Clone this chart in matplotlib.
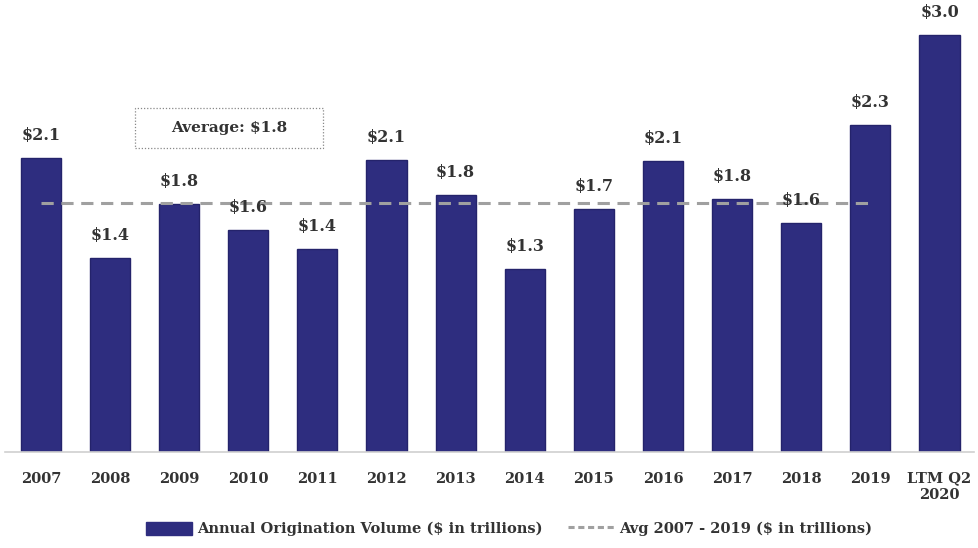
import matplotlib.pyplot as plt
from matplotlib.lines import Line2D
from matplotlib.patches import Patch, Rectangle

years = ['2007', '2008', '2009', '2010', '2011', '2012', '2013', '2014',
         '2015', '2016', '2017', '2018', '2019', 'LTM Q2\n2020']
volume = [2.10, 1.39, 1.77, 1.59, 1.45, 2.09, 1.84, 1.31,
          1.74, 2.08, 1.81, 1.64, 2.34, 2.98]
labels = ['$2.1', '$1.4', '$1.8', '$1.6', '$1.4', '$2.1', '$1.8', '$1.3',
          '$1.7', '$2.1', '$1.8', '$1.6', '$2.3', '$3.0']
avg = 1.78
avg_label = 'Average: $1.8'

navy = '#2e2d7f'
txt = '#333333'
plt.rcParams['font.family'] = ['DejaVu Serif']
plt.rcParams['font.weight'] = 'bold'

fig = plt.figure(figsize=(9.79, 5.48), dpi=100)
ax = fig.add_axes([0.005, 0.175, 0.99, 0.825])

x = list(range(len(years)))
ax.bar(x, volume, width=0.58, color=navy, edgecolor='#24236b', linewidth=1)
for xi, v, lab in zip(x, volume, labels):
    ax.text(xi, v + 0.1, lab, ha='center', va='bottom', fontsize=11.5,
            color=txt, fontweight='bold')

ax.plot([0, 12], [avg, avg], color='#a0a0a0', lw=2.2, ls=(0, (4, 2.5)))

# dotted box with the average
ax.add_patch(Rectangle((0.134, 0.673), 0.194, 0.088, transform=ax.transAxes,
                       fill=False, ec='#888888', lw=0.9, ls=(0, (1, 1.5))))
ax.text(0.231, 0.717, avg_label, transform=ax.transAxes, ha='center',
        va='center', fontsize=11, color=txt, fontweight='bold')

ax.set_xlim(-0.52, 13.5)
ax.set_ylim(0, 3.23)
ax.set_xticks(x)
ax.set_xticklabels(years, fontsize=10.5, color=txt, fontweight='bold')
ax.tick_params(axis='x', length=0, pad=14)
ax.set_yticks([])
for s in ['top', 'left', 'right']:
    ax.spines[s].set_visible(False)
ax.spines['bottom'].set_color('#d0d0d0')
ax.spines['bottom'].set_linewidth(1.2)

handles = [Patch(color=navy),
           Line2D([0], [0], color='#a0a0a0', lw=2.2, ls=(0, (2, 1.2)))]
fig.legend(handles, ['Annual Origination Volume ($ in trillions)',
                     'Avg 2007 - 2019 ($ in trillions)'],
           loc='center', bbox_to_anchor=(0.52, 0.035), ncol=2, frameon=False,
           fontsize=10.5, handlelength=3.2, handleheight=1.0,
           columnspacing=1.8, handletextpad=0.3, labelcolor=txt)

plt.savefig('out.png', dpi=100)
